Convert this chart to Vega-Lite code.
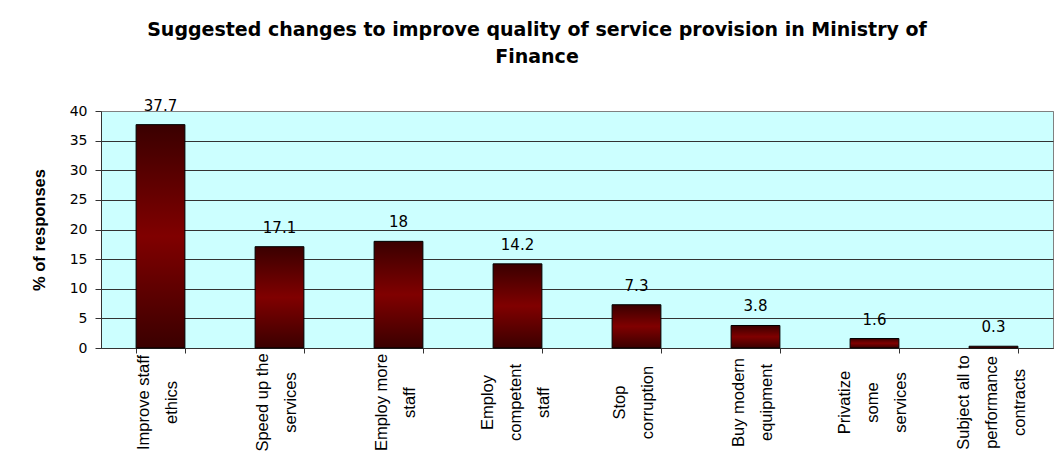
{
  "$schema": "https://vega.github.io/schema/vega-lite/v6.json",
  "autosize": {"type": "none"},
  "width": 952,
  "height": 237,
  "padding": {"left": 101, "top": 111, "right": 6, "bottom": 117},
  "background": "white",
  "title": {
    "text": ["Suggested changes to improve quality of service provision in Ministry of", "Finance"],
    "font": "DejaVu Sans",
    "fontSize": 19,
    "fontWeight": "bold",
    "color": "black",
    "lineHeight": 27,
    "anchor": "middle",
    "frame": "group",
    "dx": -40,
    "offset": 32
  },
  "config": {
    "view": {"fill": "#CCFFFF", "stroke": "#808080", "strokeWidth": 1},
    "font": "Liberation Sans"
  },
  "data": {
    "values": [
      {"label": "Improve staff|ethics", "pct": 37.7},
      {"label": "Speed up the|services", "pct": 17.1},
      {"label": "Employ more|staff", "pct": 18},
      {"label": "Employ|competent|staff", "pct": 14.2},
      {"label": "Stop|corruption", "pct": 7.3},
      {"label": "Buy modern|equipment", "pct": 3.8},
      {"label": "Privatize|some|services", "pct": 1.6},
      {"label": "Subject all to|performance|contracts", "pct": 0.3}
    ]
  },
  "encoding": {
    "x": {
      "field": "label",
      "type": "nominal",
      "sort": null,
      "scale": {"paddingInner": 0.59, "paddingOuter": 0.295},
      "axis": {
        "title": null,
        "labelAngle": 270,
        "labelAlign": "center",
        "labelBaseline": "middle",
        "labelExpr": "split(datum.label, '|')",
        "labelLineHeight": 28,
        "labelFontSize": 16.5,
        "labelColor": "black",
        "labelPadding": 49,
        "labelOffset": {"condition": {"test": "length(split(datum.value, '|')) === 3", "value": -30}, "value": -17},
        "labelFont": "Liberation Sans",
        "tickBand": "extent",
        "tickSize": 5,
        "tickColor": "#333333",
        "domainColor": "#333333",
        "labelOverlap": false,
        "labelBound": false
      }
    },
    "y": {
      "field": "pct",
      "type": "quantitative",
      "scale": {"domain": [0, 40], "nice": false},
      "axis": {
        "title": "% of responses",
        "titleFont": "Liberation Sans",
        "titleFontSize": 16.5,
        "titleFontWeight": "bold",
        "titleColor": "black",
        "titlePadding": 22,
        "values": [0, 5, 10, 15, 20, 25, 30, 35, 40],
        "labelFont": "DejaVu Sans",
        "labelFontSize": 14,
        "labelColor": "black",
        "labelPadding": 8,
        "tickSize": 6,
        "tickColor": "#333333",
        "domainColor": "#333333",
        "gridColor": {"condition": {"test": "datum.value === 40", "value": "#808080"}, "value": "#333333"},
        "gridOpacity": 1,
        "gridWidth": 1
      }
    }
  },
  "layer": [
    {
      "mark": {
        "type": "bar",
        "stroke": "black",
        "strokeWidth": 1,
        "color": {
          "gradient": "linear",
          "x1": 0, "y1": 0, "x2": 0, "y2": 1,
          "stops": [
            {"offset": 0, "color": "#3a0000"},
            {"offset": 0.5, "color": "#800000"},
            {"offset": 1, "color": "#3a0000"}
          ]
        }
      }
    },
    {
      "mark": {
        "type": "text",
        "baseline": "alphabetic",
        "dy": -14,
        "fontSize": 15,
        "color": "black",
        "font": "DejaVu Sans"
      },
      "encoding": {"text": {"field": "pct", "type": "quantitative"}}
    }
  ]
}
